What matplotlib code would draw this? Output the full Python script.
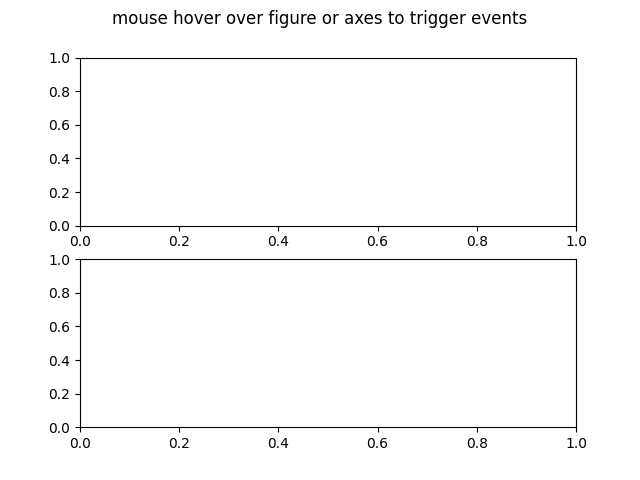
import matplotlib
matplotlib.use("Agg")
import matplotlib.pyplot as plt

title = "mouse hover over figure or axes to trigger events"
xlim = [0.0, 1.0]
ylim = [0.0, 1.0]

fig, axs = plt.subplots(2, 1, figsize=(6.4, 4.8), dpi=100)
fig.suptitle(title)
for ax in axs:
    ax.set_xlim(xlim)
    ax.set_ylim(ylim)
fig.savefig("out.png")
